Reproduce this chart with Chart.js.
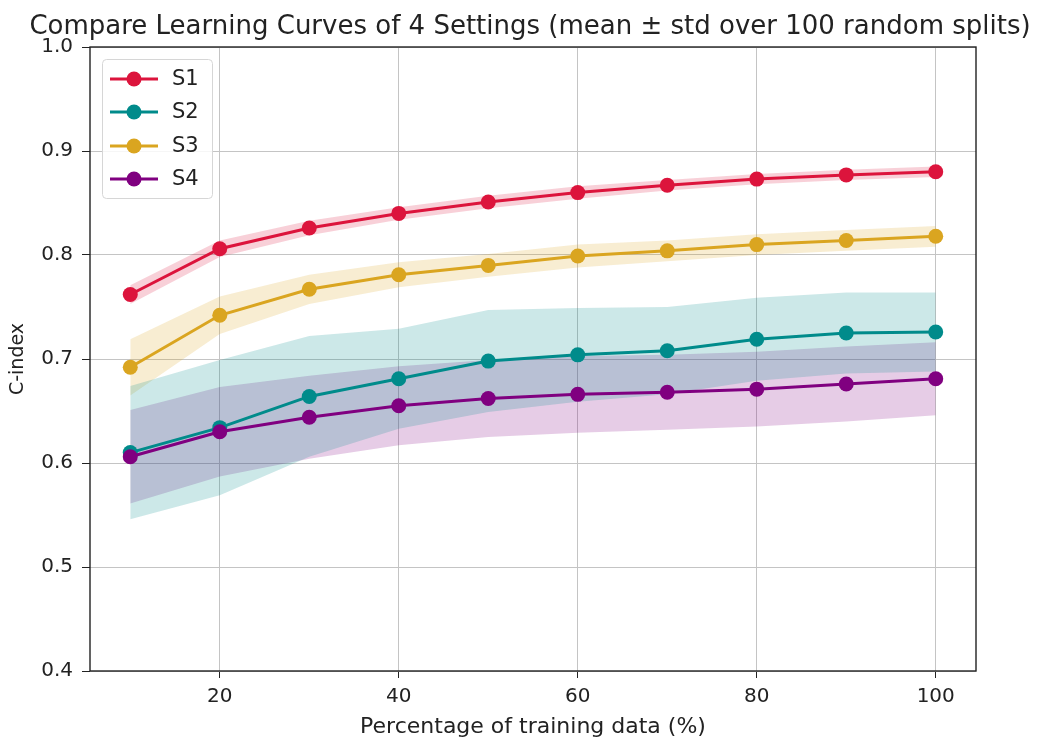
<!DOCTYPE html>
<html>
<head>
<meta charset="utf-8">
<script src="https://cdn.jsdelivr.net/npm/chart.js@4"></script>
<style>
  html, body { margin: 0; padding: 0; background: #fff; }
  #wrap { width: 1051px; height: 740px; }
</style>
</head>
<body>
<div id="wrap"><canvas id="curveChart" width="1051" height="740"></canvas></div>
<script>
const trainPct = [10, 20, 30, 40, 50, 60, 70, 80, 90, 100];
const seriesNames = ['S1', 'S2', 'S3', 'S4'];
const seriesColors = ['#dc143c', '#008b8b', '#daa520', '#800080'];
const s1Mean = [0.762, 0.806, 0.826, 0.840, 0.851, 0.860, 0.867, 0.873, 0.877, 0.880];
const s1Std  = [0.009, 0.008, 0.007, 0.006, 0.006, 0.006, 0.005, 0.005, 0.005, 0.005];
const s2Mean = [0.610, 0.634, 0.664, 0.681, 0.698, 0.704, 0.708, 0.719, 0.725, 0.726];
const s2Std  = [0.064, 0.065, 0.058, 0.048, 0.049, 0.045, 0.042, 0.040, 0.039, 0.038];
const s3Mean = [0.692, 0.742, 0.767, 0.781, 0.790, 0.799, 0.804, 0.810, 0.814, 0.818];
const s3Std  = [0.027, 0.018, 0.014, 0.012, 0.011, 0.011, 0.010, 0.010, 0.010, 0.010];
const s4Mean = [0.606, 0.630, 0.644, 0.655, 0.662, 0.666, 0.668, 0.671, 0.676, 0.681];
const s4Std  = [0.045, 0.043, 0.040, 0.038, 0.037, 0.037, 0.036, 0.036, 0.036, 0.035];
const xTicks = [20, 40, 60, 80, 100];
const chartTitle = 'Compare Learning Curves of 4 Settings (mean \u00b1 std over 100 random splits)';

const means = [s1Mean, s2Mean, s3Mean, s4Mean];
const stds = [s1Std, s2Std, s3Std, s4Std];

function withAlpha(hex, a) {
    const n = parseInt(hex.slice(1), 16);
    return 'rgba(' + (n >> 16) + ',' + ((n >> 8) & 255) + ',' + (n & 255) + ',' + a + ')';
}

const datasets = [];
// std bands: upper then lower, the lower one fills up to the upper one
seriesNames.forEach(function(name, i) {
    datasets.push({
        label: name + ' upper',
        data: trainPct.map((x, j) => ({ x: x, y: means[i][j] + stds[i][j] })),
        borderWidth: 0,
        pointRadius: 0,
        fill: false,
        order: 10
    });
    datasets.push({
        label: name + ' lower',
        data: trainPct.map((x, j) => ({ x: x, y: means[i][j] - stds[i][j] })),
        borderWidth: 0,
        pointRadius: 0,
        backgroundColor: withAlpha(seriesColors[i], 0.2),
        fill: '-1',
        order: 10
    });
});
seriesNames.forEach(function(name, i) {
    datasets.push({
        label: name,
        data: trainPct.map((x, j) => ({ x: x, y: means[i][j] })),
        borderColor: seriesColors[i],
        backgroundColor: seriesColors[i],
        borderWidth: 3,
        pointRadius: 7.5,
        pointHoverRadius: 7.5,
        pointBorderWidth: 0,
        fill: false,
        order: 4 - i
    });
});

const framePlugin = {
    id: 'frame',
    afterDraw(chart) {
        const ctx = chart.ctx;
        const a = chart.chartArea;
        ctx.save();
        ctx.strokeStyle = '#222';
        ctx.lineWidth = 1.4;
        ctx.strokeRect(a.left, a.top, a.right - a.left, a.bottom - a.top);

        // title above the axes
        ctx.fillStyle = '#222';
        ctx.font = '26px "DejaVu Sans"';
        ctx.textAlign = 'center';
        ctx.textBaseline = 'middle';
        ctx.fillText(chartTitle, 530, 27);

        // legend box in the upper left
        const bx = 102, by = 59, bw = 110, bh = 139;
        ctx.fillStyle = 'rgba(255,255,255,0.85)';
        ctx.strokeStyle = '#d6d6d6';
        ctx.lineWidth = 1;
        ctx.beginPath();
        ctx.roundRect(bx + 0.5, by + 0.5, bw, bh, 4);
        ctx.fill();
        ctx.stroke();
        const rows = [79, 112, 146, 179];
        ctx.font = '21px "DejaVu Sans"';
        ctx.textAlign = 'left';
        seriesNames.forEach(function(name, i) {
            const y = rows[i];
            ctx.strokeStyle = seriesColors[i];
            ctx.lineWidth = 3;
            ctx.beginPath();
            ctx.moveTo(110, y);
            ctx.lineTo(158, y);
            ctx.stroke();
            ctx.fillStyle = seriesColors[i];
            ctx.beginPath();
            ctx.arc(134, y, 7.5, 0, Math.PI * 2);
            ctx.fill();
            ctx.fillStyle = '#222';
            ctx.fillText(name, 172, y + 1);
        });
        ctx.restore();
    }
};

const ctx = document.getElementById('curveChart').getContext('2d');
const curveChart = new Chart(ctx, {
    type: 'line',
    data: { datasets: datasets },
    plugins: [framePlugin],
    options: {
        responsive: false,
        animation: false,
        layout: { padding: { left: 0, right: 75, top: 47, bottom: 0 } },
        plugins: {
            legend: { display: false },
            tooltip: { enabled: false },
            title: { display: false }
        },
        scales: {
            x: {
                type: 'linear',
                min: 5.5,
                max: 104.5,
                afterBuildTicks(scale) {
                    scale.ticks = xTicks.map(v => ({ value: v }));
                },
                afterFit(scale) { scale.height = 69; },
                grid: {
                    color: '#c4c4c4',
                    lineWidth: 1,
                    tickColor: '#222',
                    tickLength: 7
                },
                border: { display: false },
                ticks: {
                    color: '#222',
                    font: { family: 'DejaVu Sans', size: 20 },
                    padding: 7,
                    maxRotation: 0
                },
                title: {
                    display: true,
                    text: 'Percentage of training data (%)',
                    color: '#222',
                    font: { family: 'DejaVu Sans', size: 22 },
                    padding: { top: 0, bottom: 0 }
                }
            },
            y: {
                min: 0.4,
                max: 1.0,
                afterFit(scale) { scale.width = 90; },
                grid: {
                    color: '#c4c4c4',
                    lineWidth: 1,
                    tickColor: '#222',
                    tickLength: 8
                },
                border: { display: false },
                ticks: {
                    stepSize: 0.1,
                    color: '#222',
                    font: { family: 'DejaVu Sans', size: 20 },
                    padding: 9,
                    callback: v => v.toFixed(1)
                },
                title: {
                    display: true,
                    text: 'C-index',
                    color: '#222',
                    font: { family: 'DejaVu Sans', size: 19 },
                    padding: { top: 7, bottom: 0 }
                }
            }
        }
    }
});
</script>
</body>
</html>
